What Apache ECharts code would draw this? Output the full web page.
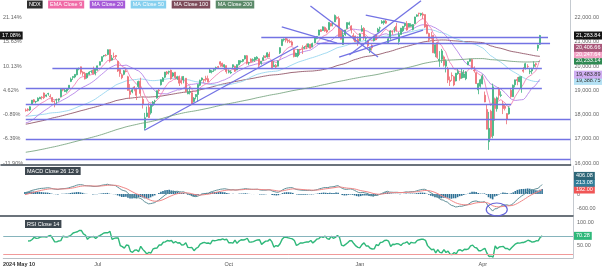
<!DOCTYPE html>
<html><head><meta charset="utf-8">
<script src="https://cdn.jsdelivr.net/npm/echarts@6/dist/echarts.min.js"></script>
<style>html,body{margin:0;padding:0;background:#fff}#c{width:602px;height:268px}</style>
</head><body><div id="c"></div><script>
// ---------------- DATA ----------------
const startDate = '2024-05-10';
const calendarEnd = '2025-06-30';
const holidays = ['2024-05-27','2024-06-19','2024-07-04','2024-09-02','2024-11-28','2024-12-25','2025-01-01','2025-01-09','2025-01-20','2025-02-17','2025-04-18','2025-05-26'];

// closes before the visible window (2023-07-24 .. 2024-05-09), used only to warm up the indicators
const warmCloses = [15437,15550,15448,15390,15681,15757,
15735,15391,15358,15274,15407,15286,15109,15131,15055,15205,15031,14869,14695,14694,14943,14887,15121,14787,14942,15056,15378,15458,15501,
15497,15516,15398,15262,15302,15462,15292,15350,15476,15203,15220,15188,14978,14695,14701,14767,14546,14572,14701,14715,
14870,14626,14812,14778,15023,15090,15175,15278,15218,15026,15187,15140,14953,14823,14555,14599,14740,14397,14109,14181,14335,14409,
14667,14941,15140,15200,15343,15368,15262,15530,15485,15817,15819,15836,15842,16028,15948,15994,15982,15958,15996,15987,15947,
15997,15840,15875,15769,16052,16085,16223,16377,16575,16563,16623,16730,16787,16528,16740,16777,16870,16885,16878,16826,
16544,16368,16283,16305,16650,16692,16825,16867,16832,16889,16799,17054,17314,17329,17420,17499,17517,17421,17596,17476,17137,
17344,17642,17627,17583,17777,17784,17962,17882,17600,17874,17963,17685,17534,17478,17991,17937,17928,17964,17874,18043,
18302,18224,17899,18017,18339,18043,17975,18249,18166,18181,17808,17986,18040,18240,18339,18339,18263,18203,18281,18255,
18257,18081,18123,17838,18050,18076,18142,17952,18226,17946,17707,17707,17493,17394,17037,17211,17472,17526,17431,17718,17783,17440,
17321,17541,17890,18084,18069,18047,18114];

const opens = [18190,18220,18190,18420,18610,18530,18560,18650,18720,18890,18760,18850,18760,18700,18560,
18600,18600,18740,19030,18950,18970,19080,19370,19530,19550,19640,19890,19970,19750,19700,19520,19660,19780,19840,
19700,19830,20040,20200,20420,20450,20480,20680,20250,20400,20440,20200,19860,19640,19660,19800,19560,18980,18940,19140,19060,19160,
19380,18630,17450,17920,18300,18070,18380,18550,18680,19010,19230,19370,19540,19760,19750,19830,19590,19750,19500,19570,19400,19430,
19500,18860,18920,18900,18540,18740,18830,19210,19430,19450,19500,19480,19740,19770,19830,19930,19980,20180,20120,19970,
20020,19750,19720,19970,19990,19840,20060,20180,20200,20300,20430,20130,20290,20230,20250,20300,20300,20120,20240,20420,20380,20500,20230,
19980,20030,20000,20550,20850,21090,21150,21070,21020,21000,20680,20400,20420,20690,20750,20740,20840,20790,20900,20800,
20960,21140,21280,21500,21470,21600,21490,21500,21760,21740,21830,22010,21970,21470,20890,21300,21550,21720,21660,21260,21240,
21110,21050,21440,21560,21150,21040,20660,20850,21050,21300,21410,21580,21780,21790,21860,20960,21170,21420,21520,21650,
21020,21310,21460,21670,21760,21630,21650,21510,21760,22060,22190,22120,22150,22130,21700,21350,21190,21270,20530,
20970,20220,20280,20380,20000,19900,19420,19620,19560,19390,19690,19700,19510,19530,19480,20060,20200,20270,19840,19730,19020,
19170,19270,18800,18210,16880,18140,17130,18650,18240,19050,18790,18440,18340,18040,18030,19000,18740,19230,19450,19360,19100,
19840,19890,19990,19760,19800,19990,20100,20740,20900];
const highs = [18250,18260,18340,18600,18640,18560,18710,18730,18760,18910,18830,18900,18840,18720,18580,
18660,18670,19050,19070,19090,19080,19210,19530,19580,19670,19910,19940,19980,19790,19760,19710,19790,19830,19980,
19890,20020,20190,20400,20460,20500,20690,20690,20460,20560,20460,20210,19900,19700,19840,19900,19600,19260,19110,19180,19110,19400,
19520,18740,18070,18330,18470,18450,18560,18610,18990,19060,19450,19550,19760,19800,19810,19860,19750,19760,19600,19610,19580,19590,
19510,19080,19150,18980,18720,18840,19260,19440,19530,19460,19600,19610,19880,19830,19880,19980,20010,20200,20140,20070,
20030,19860,19830,20070,20020,20070,20240,20240,20290,20450,20460,20180,20320,20320,20380,20410,20320,20210,20450,20440,20570,20590,20240,
20200,20090,20230,20780,21110,21140,21170,21140,21110,21060,20700,20560,20710,20710,20860,20830,20930,20930,20920,20970,
21170,21240,21500,21530,21640,21630,21560,21810,21780,21840,22130,22050,22060,21520,21450,21500,21800,21840,21690,21360,21260,
21230,21360,21690,21610,21230,21060,20760,20900,21250,21310,21580,21630,21900,21880,21930,21220,21480,21480,21610,21790,
21410,21580,21660,21780,21860,21780,21770,21730,22040,22140,22200,22200,22220,22130,21730,21380,21420,21290,20900,
21000,20620,20710,20440,20280,19970,19570,19740,19600,19720,19890,19720,19900,19840,19790,20200,20300,20300,19990,19740,19310,
19480,19660,18950,18400,18110,18200,19280,18700,18740,19130,18960,18570,18430,18050,18340,19100,19240,19440,19550,19580,19580,
19960,20140,20080,19880,19930,20200,20140,20890,21290];
const lows = [18120,18130,18150,18400,18500,18460,18540,18640,18620,18640,18720,18780,18700,18500,18300,
18440,18530,18720,18960,18930,18900,19020,19340,19430,19500,19620,19830,19660,19600,19450,19480,19640,19700,19660,
19620,19810,20030,20180,20370,20400,20450,20150,20230,20330,20300,19760,19560,19460,19620,19740,18990,18640,18880,18960,18600,19090,
18760,18250,17350,17890,17860,18000,18330,18430,18660,18860,19200,19360,19500,19630,19660,19440,19540,19460,19430,19180,19250,19290,
18920,18840,18830,18410,18500,18630,18520,19170,19380,19310,19360,19330,19720,19700,19760,19820,19900,19970,19960,19860,
19690,19700,19680,19880,19760,19830,20030,20110,20160,20270,20070,20040,20150,20180,20180,20260,19960,20060,20230,20330,20350,20370,19880,
19970,19910,19990,20500,20840,21020,20980,20950,20950,20850,20360,20380,20360,20460,20500,20700,20700,20770,20720,20780,
20950,21110,21270,21410,21450,21420,21360,21490,21640,21640,21820,21920,21160,21100,20880,21250,21540,21680,21350,21060,20990,
20840,21030,21420,21080,21010,20770,20540,20640,21020,21080,21400,21440,21750,21710,21750,20920,21090,21290,21390,21420,
20890,21300,21410,21600,21460,21600,21630,21480,21740,22030,22050,22060,21950,21580,21320,21000,21100,20550,20370,
20300,19970,20130,19980,19740,19300,19180,19390,19170,19370,19640,19400,19480,19520,19420,20040,20180,19860,19730,19260,18840,
19110,19250,18510,17390,16540,17010,17020,17740,18120,18610,18720,18020,18170,17600,18000,18690,18730,19120,19210,19340,18900,
19730,19860,19920,19670,19680,19910,19950,20630,20870];
const closes = [18161.18,18182,18323,18593,18521,18547,18675,18713,18705,18697,18808,18869,18729,18538,18536,
18608,18632,19034,19010,19000,19074,19210,19465,19575,19659,19903,19908,19752,19700,19474,19701,19750,19789,19683,
19879,20011,20186,20392,20440,20439,20676,20211,20331,20386,20397,19797,19689,19523,19809,19781,18997,18831,19023,19059,18796,19363,
18873,18440,17867,18066,17878,18413,18513,18554,18987,18989,19433,19509,19753,19692,19783,19479,19720,19532,19563,19297,19316,19575,
18960,18924,18930,18421,18681,18829,19238,19416,19510,19418,19446,19357,19840,19795,19854,19943,19944,20076,19999,20061,
19772,19792,19753,20058,19790,20062,20233,20211,20272,20432,20124,20143,20181,20274,20358,20370,20040,20196,20351,20351,20551,20381,19890,
20033,19961,20210,20762,21102,21118,21072,21028,20991,20861,20394,20527,20681,20667,20741,20776,20784,20926,20741,20930,
21164,21228,21492,21434,21622,21449,21410,21806,21658,21781,22096,21975,21209,21111,21290,21491,21798,21788,21492,21207,21012,
20972,21326,21550,21169,21170,20847,20743,20757,21238,21091,21525,21580,21838,21870,21774,21128,21448,21412,21522,21478,
21297,21567,21640,21776,21491,21759,21705,21719,22030,22115,22176,22175,22100,21614,21353,21101,21152,20550,20884,
20360,20287,20629,20041,20202,19431,19361,19596,19225,19705,19780,19483,19736,19677,19754,20180,20287,19916,19807,19282,19279,
19436,19582,18521,17398,17431,17090,19145,18247,18690,18796,18812,18250,18258,17808,18276,18740,19214,19433,19403,19546,19571,
19790,20102,19980,19791,19868,20064,20061,20868,21263.84];

// axis ticks / labels
const xTickDates = ['2024-05-10','2024-07-01','2024-10-01','2025-01-02','2025-04-01'];
const xTickLabels = ['2024 May 10','Jul','Oct','Jan','Apr'];
const priceTicks = [16000,17000,18000,19000,20000,21000,22000];
const macdTicks = [0,-600];
const rsiTicks = [100,50];
const rsiLevels = [70,30];

// legend tags
const legendNames = ['NDX','EMA Close 9','MA Close 20','MA Close 50','MA Close 100','MA Close 200'];
// last-value tags
const priceTagValues = [21263.84,20406.66,20247.64,20233.14,19483.89,19388.75];
const macdTagValues = [406.08,213.08,192.00];
const rsiTagValue = 70.28;

// drawn horizontal levels: [fromDate, toDate or 'edge', price]
const levelLines = [
  ['2024-10-24','2025-05-19',21200],
  ['2024-12-03','2025-05-20',20950],
  ['2024-05-30','2025-05-14',19930],
  ['2024-05-10','2025-05-14',19100],
  ['2024-05-10','2025-04-23',18430],
  ['2024-05-10','edge',17800],
  ['2024-05-10','edge',16970],
  ['2024-05-10','edge',16160]
];
// drawn trend lines: [date1, price1, date2, price2]
const trendLines = [
  ['2024-08-05',17350,'2024-11-19',20830],
  ['2024-12-26',20460,'2025-02-19',22700],
  ['2024-11-27',22480,'2025-01-17',20380],
  ['2024-11-07',21620,'2024-12-17',20955],
  ['2025-01-08',22110,'2025-02-06',21780],
  ['2024-12-18',20376,'2025-02-20',21490]
];
// circled zone in MACD panel: [date, value]
const macdCircle = ['2025-04-10',-664];

// ---------------- BUILD ----------------
const allDays = (() => {
  const out = []; let d = new Date(startDate + 'T00:00:00Z'); const end = new Date(calendarEnd + 'T00:00:00Z');
  while (d <= end) { const dw = d.getUTCDay(); const s = d.toISOString().slice(0,10);
    if (dw !== 0 && dw !== 6 && holidays.indexOf(s) < 0) out.push(s); d = new Date(d.getTime() + 86400000); }
  return out;
})();
const xi = s => allDays.indexOf(s);
const X_MIN = -12.1, X_MAX = 266;

const all = warmCloses.concat(closes); const W = warmCloses.length;
function sma(n){ return closes.map((_, i) => { const j = W + i; let s = 0; for (let k = j - n + 1; k <= j; k++) s += all[k]; return s / n; }); }
function ema(arr, n){ const a = 2/(n+1); const out = []; let e = arr[0]; arr.forEach((v,i)=>{ e = i === 0 ? v : v*a + e*(1-a); out.push(e); }); return out; }
const ema9 = ema(all, 9).slice(W);
const e12 = ema(all, 12), e26 = ema(all, 26);
const macdAll = e12.map((v,i)=>v - e26[i]);
const sigAll = ema(macdAll, 9);
const macd = macdAll.slice(W), signal = sigAll.slice(W), hist = macd.map((v,i)=>v - signal[i]);
const rsi = (() => { let ag = 0, al = 0; const out = [];
  for (let i = 1; i < all.length; i++) { const ch = all[i] - all[i-1]; const g = Math.max(ch,0), l = Math.max(-ch,0);
    if (i <= 14) { ag += g/14; al += l/14; } else { ag = (ag*13 + g)/14; al = (al*13 + l)/14; }
    out[i] = al === 0 ? 100 : 100 - 100/(1 + ag/al); }
  return out.slice(W); })();

const pair = arr => arr.map((v,i)=>[i, v]);
const FONT = '"Liberation Sans", Arial, sans-serif';
const fmt2 = v => v.toLocaleString('en-US',{minimumFractionDigits:2, maximumFractionDigits:2});
const base = closes[0];
const pct = v => ((v/base - 1)*100).toFixed(2) + '%';

const LINE_C = '#7373e4';
const markData = [];
levelLines.forEach(([a,b,p]) => markData.push([{coord:[xi(a), p], lineStyle:{color:LINE_C, width:1.3}},{coord:[b === 'edge' ? X_MAX : xi(b), p]}]));
trendLines.forEach(([a,p1,b,p2]) => markData.push([{coord:[xi(a), p1], lineStyle:{color:LINE_C, width:1.3}},{coord:[xi(b), p2]}]));

const maColors = {ema9:'#f27cb3', ma20:'#b27ce6', ma50:'#92d4ef', ma100:'#8d4f62', ma200:'#74a27c'};
const lineSeries = (name, data, color, w) => ({ type:'line', name, data: pair(data), xAxisIndex:0, yAxisIndex:1, showSymbol:false, symbol:'none', lineStyle:{color, width:w||1, opacity:0.85}, silent:true, z:3 });

const baseX = (gi, extra) => Object.assign({ type:'value', gridIndex:gi, min:X_MIN, max:X_MAX, splitLine:{show:false}, axisTick:{show:false}, axisLabel:{show:false}, axisLine:{show:true, onZero:false, lineStyle:{color:'#3b4650', width:1.5}} }, extra||{});
const xTickIdx = xTickDates.map(xi);

const ma200Series = lineSeries('MA Close 200', sma(200), maColors.ma200);
ma200Series.markLine = {silent:true, symbol:['none','none'], label:{show:false}, animation:false,
  lineStyle:{color:LINE_C, width:1.3, type:'solid', opacity:1}, emphasis:{disabled:true}, data:markData};
ma200Series.z = 5;

const option = {
  animation:false,
  backgroundColor:'#fff',
  grid:[
    {left:0, right:29, top:0, height:165},
    {left:0, right:29, top:166, height:50},
    {left:0, right:29, top:217, height:41}
  ],
  xAxis:[
    baseX(0), baseX(1),
    baseX(2, {axisLine:{show:true, onZero:false, lineStyle:{color:'#b9bfc5', width:1}},
      axisLabel:{show:true, customValues:xTickIdx, fontSize:5.5, fontFamily:FONT, color:'#555', margin:3,
        formatter: v => { const k = xTickIdx.indexOf(v); return k === 0 ? '{f|' + xTickLabels[0] + '}' : xTickLabels[k]; },
        rich:{f:{fontSize:5.5, fontFamily:FONT, color:'#333', fontWeight:'bold', padding:[0,18,0,0]}}}})
  ],
  yAxis:[
    {type:'value', gridIndex:0, position:'left', min:15917, max:22731, splitLine:{show:false}, axisLine:{show:false}, axisTick:{show:false},
      axisLabel:{inside:true, customValues:priceTicks, formatter:pct, fontSize:5.5, fontFamily:FONT, color:'#666', margin:2}},
    {type:'value', gridIndex:0, position:'right', min:15917, max:22731, splitLine:{show:false}, axisTick:{show:false},
      axisLine:{show:true, onZero:false, lineStyle:{color:'#c5cad0', width:1}},
      axisLabel:{customValues:priceTicks, formatter:fmt2, fontSize:5.5, fontFamily:FONT, color:'#666', margin:4}},
    {type:'value', gridIndex:1, position:'right', min:-943, max:1200, splitLine:{show:false}, axisTick:{show:false},
      axisLine:{show:true, onZero:false, lineStyle:{color:'#c5cad0', width:1}},
      axisLabel:{customValues:macdTicks, formatter: v => v === 0 ? '0' : fmt2(v), fontSize:5.5, fontFamily:FONT, color:'#666', margin:4}},
    {type:'value', gridIndex:2, position:'right', min:21.1, max:112.2, splitLine:{show:false}, axisTick:{show:false},
      axisLine:{show:true, onZero:false, lineStyle:{color:'#c5cad0', width:1}},
      axisLabel:{customValues:rsiTicks, formatter:fmt2, fontSize:5.5, fontFamily:FONT, color:'#666', margin:4}}
  ],
  series:[
    ma200Series,
    lineSeries('MA Close 100', sma(100), maColors.ma100),
    lineSeries('MA Close 50', sma(50), maColors.ma50),
    lineSeries('MA Close 20', sma(20), maColors.ma20),
    lineSeries('EMA Close 9', ema9, maColors.ema9),
    {type:'candlestick', name:'NDX', xAxisIndex:0, yAxisIndex:1, z:4, barWidth:1.5,
      data: closes.map((c,i)=>[i, opens[i], c, lows[i], highs[i]]),
      itemStyle:{color:'#3db37f', color0:'#ee6d75', borderColor:'#3db37f', borderColor0:'#ee6d75', borderWidth:0.8}
    },
    {type:'bar', name:'hist', xAxisIndex:1, yAxisIndex:2, data:pair(hist), barWidth:1.6, itemStyle:{color:'#2f7195'}, silent:true},
    {type:'line', name:'MACD', xAxisIndex:1, yAxisIndex:2, data:pair(macd), showSymbol:false, lineStyle:{color:'#5f8f98', width:1}, silent:true},
    {type:'line', name:'Signal', xAxisIndex:1, yAxisIndex:2, data:pair(signal), showSymbol:false, lineStyle:{color:'#f08585', width:1}, silent:true},
    {type:'line', name:'RSI', xAxisIndex:2, yAxisIndex:3, data:pair(rsi), showSymbol:false, lineStyle:{color:'#2fb87a', width:1.4}, silent:true,
      markLine:{silent:true, symbol:['none','none'], label:{show:false}, data:[
        {yAxis:rsiLevels[0], lineStyle:{color:'#86b4bc', width:1, type:'solid'}},
        {yAxis:rsiLevels[1], lineStyle:{color:'#f19a9a', width:1, type:'solid'}}]}}
  ]
};

const chart = echarts.init(document.getElementById('c'), null, {renderer:'canvas'});
chart.setOption(option);

// ---------- tags / annotations ----------
const g = [];
const mctx = document.createElement('canvas').getContext('2d');
const FS = 5.5;
const tw = t => { mctx.font = FS + 'px ' + FONT; return mctx.measureText(t).width; };
const tag = (text, x, y, bg, fg) => g.push({type:'text', z:100, style:{text, x, y, fill:fg||'#fff', font: FS + 'px ' + FONT, backgroundColor:bg, padding:[1,2,1,2], verticalAlign:'middle', align:'left'}});

const legendBg = ['#2e2e2e','#f06aa6','#a65ad8','#86d0ef','#7d4b5a','#5b8a69'];
let lx = 27;
legendNames.forEach((t,k)=>{ tag(t, lx, 4.5, legendBg[k]); lx += tw(t) + 4 + 5.5; });
tag('MACD Close 26 12 9', 25, 171, '#3d474f');
tag('RSI Close 14', 25, 224, '#3d474f');

function stackTags(items, gap){
  items.sort((a,b)=>b.y - a.y);
  for (let i = 1; i < items.length; i++) items[i].y = Math.min(items[i].y, items[i-1].y - gap);
  return items;
}
const priceBg = [['#151515','#fff'],['#a9587a','#fff'],['#f3a3c6','#fff'],['#2f8a52','#fff'],['#cfaef2','#333'],['#b4e1f4','#333']];
const pTags = stackTags(priceTagValues.map((v,k)=>({v, y:chart.convertToPixel({yAxisIndex:1}, v), k})), 6.3);
pTags.forEach(t=>tag(fmt2(t.v), 574, t.y, priceBg[t.k][0], priceBg[t.k][1]));
tag(pct(priceTagValues[0]), 0, chart.convertToPixel({yAxisIndex:0}, priceTagValues[0]), '#151515');

const macdBg = ['#2d6677','#2f7d99','#f05656'];
const mTags = stackTags(macdTagValues.map((v,k)=>({v, y:chart.convertToPixel({yAxisIndex:2}, v), k})), 6.8);
mTags.forEach(t=>tag(fmt2(t.v), 574, t.y, macdBg[t.k]));
tag(fmt2(rsiTagValue), 574, chart.convertToPixel({yAxisIndex:3}, rsiTagValue), '#2fb87a');

const cp = chart.convertToPixel({xAxisIndex:1, yAxisIndex:2}, [xi(macdCircle[0]), macdCircle[1]]);
g.push({type:'ellipse', z:50, shape:{cx:cp[0], cy:cp[1], rx:10.5, ry:6.5}, style:{fill:'none', stroke:'#6464d8', lineWidth:1.2}});

chart.setOption({graphic:g});
</script></body></html>
